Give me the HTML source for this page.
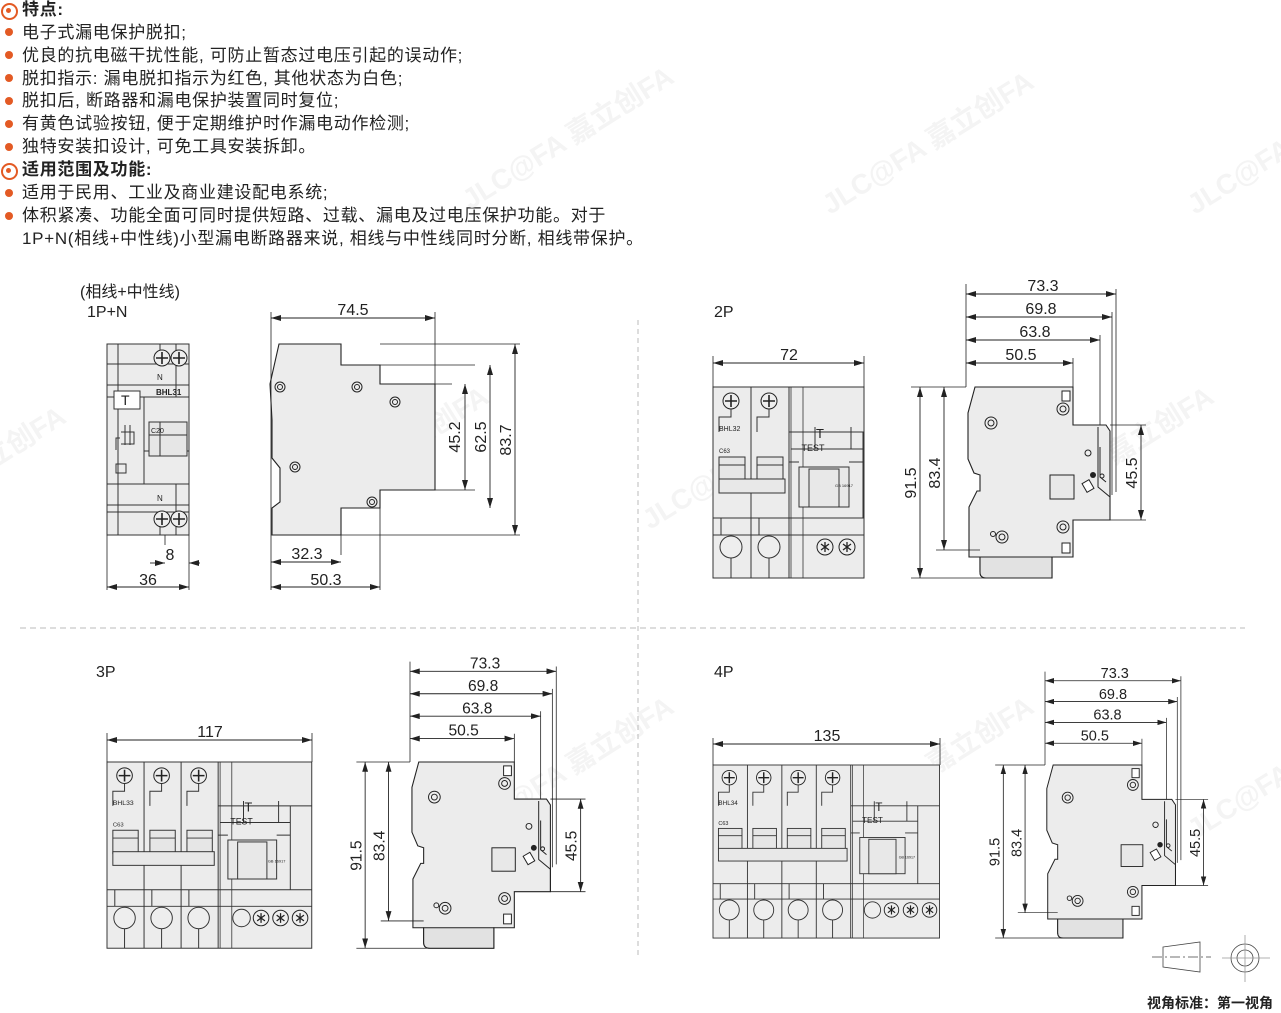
<!DOCTYPE html>
<html><head><meta charset="utf-8"><style>
html,body{margin:0;padding:0;background:#fff;width:1281px;height:1013px;overflow:hidden;position:relative}
.t{position:absolute;left:22px;font-family:"Liberation Sans","Noto Sans CJK SC",sans-serif;font-size:17px;letter-spacing:.7px;color:#222;line-height:20px;white-space:nowrap}
.h{font-weight:bold}
.dot{position:absolute;left:5px;width:8px;height:8px;border-radius:50%;background:#e35a24}
.ring{position:absolute;left:1px;width:12px;height:12px;border:2.5px solid #e35a24;border-radius:50%;box-sizing:border-box}
.ring:after{content:"";position:absolute;left:3px;top:3px;width:5px;height:5px;border-radius:50%;background:#e35a24}
svg{position:absolute;left:0;top:0}
</style></head><body>
<div class="ring" style="top:3px;width:17px;height:17px"></div><div class="t h" style="top:0">特点:</div>
<div class="dot" style="top:28px"></div><div class="t" style="top:23px">电子式漏电保护脱扣;</div>
<div class="dot" style="top:51px"></div><div class="t" style="top:46px">优良的抗电磁干扰性能, 可防止暂态过电压引起的误动作;</div>
<div class="dot" style="top:74px"></div><div class="t" style="top:69px">脱扣指示: 漏电脱扣指示为红色, 其他状态为白色;</div>
<div class="dot" style="top:97px"></div><div class="t" style="top:91px">脱扣后, 断路器和漏电保护装置同时复位;</div>
<div class="dot" style="top:120px"></div><div class="t" style="top:114px">有黄色试验按钮, 便于定期维护时作漏电动作检测;</div>
<div class="dot" style="top:143px"></div><div class="t" style="top:137px">独特安装扣设计, 可免工具安装拆卸。</div>
<div class="ring" style="top:163px;width:17px;height:17px"></div><div class="t h" style="top:160px">适用范围及功能:</div>
<div class="dot" style="top:189px"></div><div class="t" style="top:183px">适用于民用、工业及商业建设配电系统;</div>
<div class="dot" style="top:212px"></div><div class="t" style="top:206px">体积紧凑、功能全面可同时提供短路、过载、漏电及过电压保护功能。对于</div>
<div class="t" style="top:229px">1P+N(相线+中性线)小型漏电断路器来说, 相线与中性线同时分断, 相线带保护。</div>

<svg width="1281" height="1013" viewBox="0 0 1281 1013" font-family="Liberation Sans, Noto Sans CJK SC, sans-serif">
<defs>
<marker id="a" viewBox="0 0 10 6" refX="10" refY="3" markerWidth="10" markerHeight="6" orient="auto-start-reverse" markerUnits="userSpaceOnUse"><path d="M0 0L10 3L0 6Z" fill="#222"/></marker>
<g id="screw"><circle r="8" fill="#eee" stroke="#222" stroke-width="1"/><path d="M-6 0H6M0 -6V6" stroke="#222" stroke-width="1.6"/></g>
<g id="star"><circle r="8" fill="#eee" stroke="#222"/><path d="M-4 -3L4 3M-4 3L4 -3M0 -5V5" stroke="#222" stroke-width="1.3"/></g>
<g id="pole" stroke="#333" stroke-width="1" fill="none">
<use href="#screw" x="18" y="14"/>
<path d="M18 22V30H6V45M38 0V191"/>
<rect x="6" y="70" width="26" height="24" fill="#e6e6e6"/>
<path d="M6 78H32"/>
<path d="M0 131H38M8 131V148M0 148H38M18 171V191"/>
<circle cx="18" cy="160" r="11" fill="#eee"/>
</g>
<g id="right" stroke="#333" stroke-width="1" fill="none">
<path d="M2 0V191M14 0V191" stroke-width=".8"/>
<path d="M0 45H200M0 148H200M0 131H200"/>
<path d="M26 40V62H62V40M2 62H74M74 45V131"/>
<path d="M0 75H10M60 75H74"/>
<rect x="10" y="80" width="50" height="40" fill="#e8e8e8"/>
<rect x="20" y="82" width="30" height="38" fill="#e8e8e8"/>
</g>
<g id="side">
<path d="M9 0H107V38H140L144 44V133H107V170H86V191H20Q14 191 14 185V170H3V120L11 104H14V88L8 86L2 72V26Z" fill="#ececec" stroke="#222" stroke-width="1.1"/>
<path d="M86 170V191H20Q14 191 14 185V170Z" fill="#e2e2e2" stroke="#222" stroke-width="1.1"/>
<path d="M132 40V100L144 110V133M134 60V90L140 95" fill="none" stroke="#222" stroke-width="1"/>
<rect x="118" y="94" width="8" height="10" fill="#fff" stroke="#222" transform="rotate(-30 122 99)"/>
<circle cx="127" cy="88" r="3" fill="#222"/><circle cx="136" cy="89" r="2" fill="none" stroke="#222"/>
<rect x="84" y="88" width="24" height="24" fill="#e8e8e8" stroke="#222"/>
<g fill="#eee" stroke="#222"><circle cx="25" cy="36" r="6"/><circle cx="25" cy="36" r="3"/><circle cx="97" cy="22" r="6"/><circle cx="97" cy="22" r="3"/><circle cx="97" cy="140" r="6"/><circle cx="97" cy="140" r="3"/><circle cx="36" cy="150" r="6"/><circle cx="36" cy="150" r="3"/><circle cx="27" cy="147" r="2.5"/><circle cx="122" cy="66" r="3"/></g>
<rect x="96" y="4" width="8" height="10" fill="#fff" stroke="#222"/><rect x="96" y="156" width="8" height="10" fill="#fff" stroke="#222"/>
<g stroke="#222" stroke-width=".8" fill="none">
<path d="M0 -103V0M150 -98V105M146 -75V108M134 -52V38M107 -29V0M-55 0H0M-55 191H20M-30 163H14M144 38H180M144 133H180"/>
</g>
<g stroke="#222" stroke-width=".9" marker-start="url(#a)" marker-end="url(#a)">
<line x1="0" y1="-93" x2="150" y2="-93"/><line x1="0" y1="-70" x2="146" y2="-70"/><line x1="0" y1="-47" x2="134" y2="-47"/><line x1="0" y1="-24" x2="107" y2="-24"/>
<line x1="-46" y1="0" x2="-46" y2="191"/><line x1="-22" y1="0" x2="-22" y2="163"/><line x1="175" y1="38" x2="175" y2="133"/>
</g>
<g font-size="16" fill="#222" text-anchor="middle">
<text x="77" y="-96">73.3</text><text x="75" y="-73">69.8</text><text x="69" y="-50">63.8</text><text x="55" y="-27">50.5</text>
<text transform="translate(-50 96) rotate(-90)">91.5</text><text transform="translate(-26 86) rotate(-90)">83.4</text><text transform="translate(171 86) rotate(-90)">45.5</text>
</g>
</g>
</defs>

<!-- watermarks -->
<g fill="#f4f4f4" font-weight="bold" font-size="28">
<text transform="translate(470 210) rotate(-32)">JLC@FA 嘉立创FA</text>
<text transform="translate(830 215) rotate(-32)">JLC@FA 嘉立创FA</text>
<text transform="translate(1195 215) rotate(-32)">JLC@FA 嘉</text>
<text transform="translate(285 530) rotate(-32)">JLC@FA 嘉立创FA</text>
<text transform="translate(650 530) rotate(-32)">JLC@FA 嘉立创FA</text>
<text transform="translate(1010 530) rotate(-32)">JLC@FA 嘉立创FA</text>
<text transform="translate(-10 470) rotate(-32)">立创FA</text>
<text transform="translate(470 840) rotate(-32)">JLC@FA 嘉立创FA</text>
<text transform="translate(830 840) rotate(-32)">JLC@FA 嘉立创FA</text>
<text transform="translate(1195 840) rotate(-32)">JLC@FA 嘉</text>
</g>

<!-- separators -->
<path d="M638 320V955" stroke="#bbb" stroke-dasharray="5 4"/>
<path d="M20 628H1245" stroke="#bbb" stroke-dasharray="6 4"/>

<!-- titles -->
<g font-size="16" fill="#222">
<text x="80" y="297">(相线+中性线)</text><text x="87" y="317">1P+N</text>
<text x="714" y="317">2P</text><text x="96" y="677">3P</text><text x="714" y="677">4P</text>
</g>

<!-- 1P+N front -->
<g stroke="#333" stroke-width="1" fill="none">
<rect x="107" y="344" width="82" height="191" fill="#ececec"/>
<path d="M118 344V535M107 364H189M107 385H189M107 397H189M107 484H189M107 505H189M107 512H189M144 397V484M144 451H189M160 344V364M176 344V397M160 512V535M176 484V535"/>
<rect x="114" y="391" width="26" height="18" fill="#fff"/>
<rect x="149" y="422" width="38" height="34" fill="#e6e6e6"/><path d="M160 422V456M149 435H187"/>
<rect x="116" y="464" width="10" height="9"/>
<path d="M125 425V445M130 425V445M121 432H134V444H121M120 438H116V450"/>
</g>
<use href="#screw" x="162" y="358"/><use href="#screw" x="179" y="358"/><use href="#screw" x="162" y="519"/><use href="#screw" x="179" y="519"/>
<g font-size="8" fill="#222"><text x="157" y="380">N</text><text x="157" y="501">N</text><text x="156" y="395" font-weight="bold">BHL31</text><text x="151" y="433" font-size="7">C20</text><text x="121" y="405" font-size="14">T</text></g>
<g stroke="#222" stroke-width=".8"><path d="M107 535V590M189 535V590M165 535V545M189 535V545"/></g>
<g stroke="#222" stroke-width=".9" marker-start="url(#a)" marker-end="url(#a)"><line x1="107" y1="587" x2="189" y2="587"/><line x1="150" y1="563" x2="165" y2="563" marker-start="none"/><line x1="200" y1="563" x2="189" y2="563" marker-start="none"/></g>
<g font-size="16" fill="#222" text-anchor="middle"><text x="148" y="585">36</text><text x="170" y="560">8</text></g>

<!-- 1P+N side -->
<path d="M279 344H341V365H380V384H435V490H380V508H341V535H272V508L280 502V468L272 458V420L270 384Z" fill="#ececec" stroke="#222" stroke-width="1.1"/>
<path d="M341 344V365H380V384M341 535V508H380V490" fill="none" stroke="#222"/>
<g fill="#eee" stroke="#222"><circle cx="280" cy="387" r="5"/><circle cx="280" cy="387" r="2.5"/><circle cx="357" cy="387" r="5"/><circle cx="357" cy="387" r="2.5"/><circle cx="395" cy="402" r="5"/><circle cx="395" cy="402" r="2.5"/><circle cx="295" cy="467" r="5"/><circle cx="295" cy="467" r="2.5"/><circle cx="372" cy="502" r="5"/><circle cx="372" cy="502" r="2.5"/></g>
<g stroke="#222" stroke-width=".8"><path d="M271 312V590M435 312V384M380 365H475M435 384H452M380 490H475M341 535H520M341 508V555M380 508V590M380 344H520"/></g>
<g stroke="#222" stroke-width=".9" marker-start="url(#a)" marker-end="url(#a)">
<line x1="271" y1="318" x2="435" y2="318"/><line x1="271" y1="562" x2="341" y2="562"/><line x1="271" y1="587" x2="380" y2="587"/>
<line x1="465" y1="384" x2="465" y2="490"/><line x1="490" y1="365" x2="490" y2="508"/><line x1="515" y1="344" x2="515" y2="535"/>
</g>
<g font-size="16" fill="#222" text-anchor="middle"><text x="353" y="315">74.5</text><text x="307" y="559">32.3</text><text x="326" y="585">50.3</text>
<text transform="translate(460 437) rotate(-90)">45.2</text><text transform="translate(486 437) rotate(-90)">62.5</text><text transform="translate(511 440) rotate(-90)">83.7</text></g>

<!-- 2P front -->
<g transform="translate(713 387)">
<rect width="151" height="191" fill="#ececec" stroke="#333"/>
<use href="#pole" x="0"/><use href="#pole" x="38"/>
<rect x="6" y="92" width="66" height="14" fill="#e8e8e8" stroke="#333"/>
<svg x="76" y="0" width="75" height="191" overflow="hidden"><use href="#right"/></svg>
<use href="#star" x="112" y="160"/><use href="#star" x="134" y="160"/>
<g fill="#222"><text x="6" y="44" font-size="7">BHL32</text><text x="6" y="66" font-size="6">C63</text><text x="107" y="51" font-size="13" text-anchor="middle">T</text><text x="100" y="64" font-size="9" text-anchor="middle">TEST</text><text x="122" y="100" font-size="4">GB 16917</text></g>
</g>
<use href="#side" x="966" y="387"/>

<!-- 3P front -->
<g transform="translate(107 762) scale(.975)">
<rect width="210" height="191" fill="#ececec" stroke="#333"/>
<use href="#pole" x="0"/><use href="#pole" x="38"/><use href="#pole" x="76"/>
<rect x="6" y="92" width="104" height="14" fill="#e8e8e8" stroke="#333"/>
<svg x="114" y="0" width="96" height="191" overflow="hidden"><use href="#right"/></svg>
<circle cx="138" cy="160" r="9" fill="#eee" stroke="#333"/><use href="#star" x="158" y="160"/><use href="#star" x="178" y="160"/><use href="#star" x="198" y="160"/>
<g fill="#222"><text x="6" y="44" font-size="7">BHL33</text><text x="6" y="66" font-size="6">C63</text><text x="145" y="51" font-size="13" text-anchor="middle">T</text><text x="138" y="64" font-size="9" text-anchor="middle">TEST</text><text x="165" y="103" font-size="4">GB 16917</text></g>
</g>
<use href="#side" transform="translate(410 762) scale(.975)"/>

<!-- 4P front -->
<g transform="translate(713 765) scale(.906)">
<rect width="250" height="191" fill="#ececec" stroke="#333"/>
<use href="#pole" x="0"/><use href="#pole" x="38"/><use href="#pole" x="76"/><use href="#pole" x="114"/>
<rect x="6" y="92" width="142" height="14" fill="#e8e8e8" stroke="#333"/>
<svg x="152" y="0" width="98" height="191" overflow="hidden"><use href="#right"/></svg>
<circle cx="176" cy="160" r="9" fill="#eee" stroke="#333"/><use href="#star" x="197" y="160"/><use href="#star" x="218" y="160"/><use href="#star" x="239" y="160"/>
<g fill="#222"><text x="6" y="44" font-size="7">BHL34</text><text x="6" y="66" font-size="6">C63</text><text x="183" y="51" font-size="13" text-anchor="middle">T</text><text x="176" y="64" font-size="9" text-anchor="middle">TEST</text><text x="205" y="103" font-size="4">GB 16917</text></g>
</g>
<use href="#side" transform="translate(1045 765) scale(.906)"/>

<!-- front width dims -->
<g stroke="#222" stroke-width=".8"><path d="M713 356V387M864 356V387M107 733V762M312 733V762M713 738V765M940 738V765"/></g>
<g stroke="#222" stroke-width=".9" marker-start="url(#a)" marker-end="url(#a)">
<line x1="713" y1="363" x2="864" y2="363"/><line x1="107" y1="740" x2="312" y2="740"/><line x1="713" y1="744" x2="940" y2="744"/>
</g>
<g font-size="16" fill="#222" text-anchor="middle"><text x="789" y="360">72</text><text x="210" y="737">117</text><text x="827" y="741">135</text></g>

<!-- view symbol -->
<g stroke="#444" stroke-width=".8" fill="none">
<path d="M1163 947L1200 942V972L1163 967Z"/>
<path d="M1152 957H1211" stroke-dasharray="10 3 2 3"/>
<circle cx="1245" cy="958" r="14"/><circle cx="1245" cy="958" r="8"/>
<path d="M1222 958H1270M1245 935V982" stroke="#999"/>
</g>
<text x="1147" y="1008" font-size="14" font-weight="bold" fill="#222">视角标准：第一视角</text>
</svg>
</body></html>
